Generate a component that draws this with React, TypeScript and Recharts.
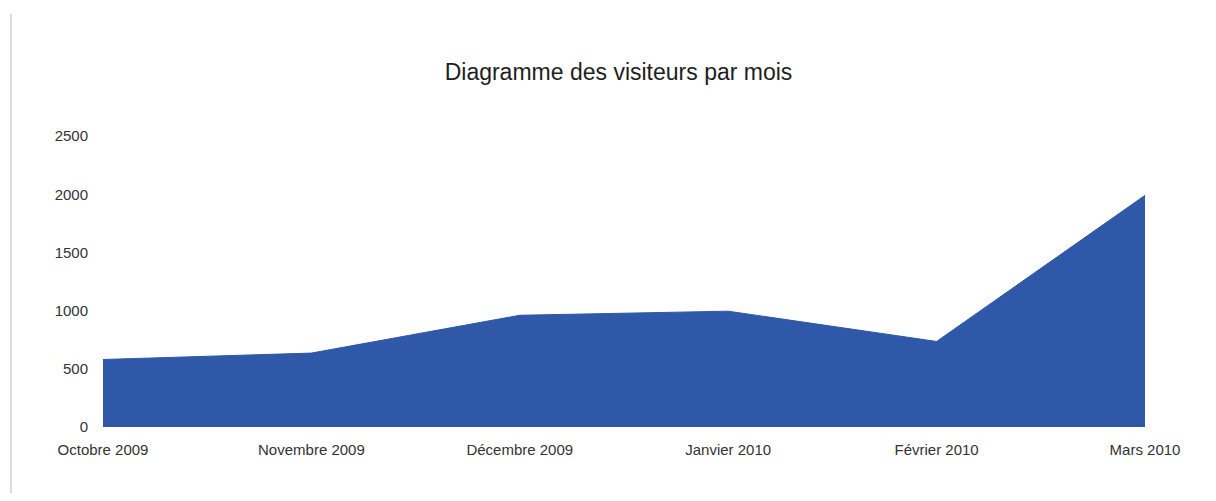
import React from 'react'
import { AreaChart, Area, XAxis, YAxis } from 'recharts'

const months = ['Octobre 2009', 'Novembre 2009', 'Décembre 2009', 'Janvier 2010', 'Février 2010', 'Mars 2010']
const visitors = [580, 635, 960, 995, 735, 1990]
const yTicks = [0, 500, 1000, 1500, 2000, 2500]

const data = months.map((month, i) => ({ month, visiteurs: visitors[i] }))

const font = '"Liberation Sans", Arial, sans-serif'

export default function App() {
  return (
    <div style={{ position: 'relative', width: 1200, height: 485, fontFamily: font }}>
      {/* faint scan edge on the left */}
      <div style={{ position: 'absolute', left: 2, top: 6, width: 2, height: 479, background: '#dcdcdc' }} />
      <div
        style={{
          position: 'absolute',
          top: 53,
          left: 0,
          width: 1221,
          textAlign: 'center',
          fontSize: 23,
          lineHeight: '23px',
          color: '#1e1e1e',
        }}
      >
        Diagramme des visiteurs par mois
      </div>
      <AreaChart width={1200} height={470} data={data} margin={{ top: 128, right: 63, bottom: 21, left: 0 }}>
        <XAxis
          dataKey="month"
          axisLine={false}
          tickLine={false}
          tickSize={4}
          tickMargin={13}
          interval={0}
          tick={{ fill: '#333', fontSize: 15, fontFamily: font }}
        />
        <YAxis
          width={95}
          domain={[0, 2500]}
          ticks={yTicks}
          axisLine={false}
          tickLine={false}
          tickSize={6}
          tickMargin={9}
          tick={{ fill: '#333', fontSize: 15, fontFamily: font }}
        />
        <Area
          type="linear"
          dataKey="visiteurs"
          stroke="#2f58a8"
          strokeWidth={1}
          fill="#2f58a8"
          fillOpacity={1}
          dot={false}
          activeDot={false}
          isAnimationActive={false}
        />
      </AreaChart>
    </div>
  )
}
